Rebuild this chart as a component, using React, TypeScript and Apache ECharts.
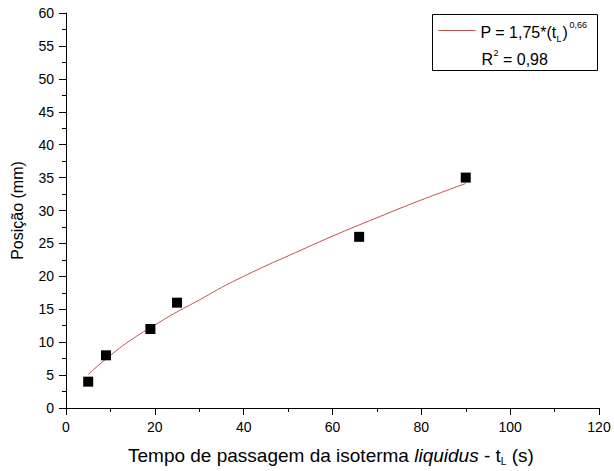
import React, { useEffect, useRef } from "react";
import * as echarts from "echarts";

const pointsT = [5, 9, 19, 25, 66, 90];
const pointsP = [4, 8, 12, 16, 26, 35];
const fitT = [5, 10, 15, 20, 25, 30, 35, 40, 45, 50, 60, 70, 80, 90];
const fitP = [5.1, 8.0, 10.5, 12.6, 14.6, 16.4, 18.3, 20.0, 21.6, 23.1, 26.1, 28.9, 31.6, 34.1];
const xTicks = [0, 20, 40, 60, 80, 100, 120];
const yTicks = [0, 5, 10, 15, 20, 25, 30, 35, 40, 45, 50, 55, 60];

const FONT = "'Liberation Sans', Arial, sans-serif";

export default function App() {
  const ref = useRef<HTMLDivElement>(null);
  useEffect(() => {
    const chart = echarts.init(ref.current!, undefined, { renderer: "svg" });
    const axisCommon = {
      axisLine: { show: true, onZero: false, lineStyle: { color: "#000", width: 1 } },
      axisTick: { show: true, inside: false, length: 7, lineStyle: { color: "#000" } },
      minorTick: { show: true, splitNumber: 2, length: 4, lineStyle: { color: "#000" } },
      splitLine: { show: false },
      axisLabel: { color: "#000", fontFamily: FONT, fontSize: 14 },
      nameTextStyle: { color: "#000", fontFamily: FONT, fontSize: 16 },
    };
    chart.setOption({
      animation: false,
      backgroundColor: "#fff",
      grid: { left: 66, right: 15, top: 13, bottom: 63 },
      xAxis: {
        type: "value",
        min: xTicks[0],
        max: xTicks[xTicks.length - 1],
        interval: 20,
        ...axisCommon,
        axisLabel: { ...axisCommon.axisLabel, margin: 12 },
        name: "",
      },
      yAxis: {
        type: "value",
        min: yTicks[0],
        max: yTicks[yTicks.length - 1],
        interval: 5,
        ...axisCommon,
        axisLabel: { ...axisCommon.axisLabel, margin: 12 },
        name: "Posição (mm)",
        nameLocation: "middle",
        nameGap: 41,
        nameRotate: 90,
      },
      series: [
        {
          type: "line",
          data: fitT.map((t, i) => [t, fitP[i]]),
          smooth: true,
          showSymbol: false,
          symbol: "none",
          lineStyle: { color: "#c0504d", width: 1 },
          z: 2,
        },
        {
          type: "scatter",
          data: pointsT.map((t, i) => [t, pointsP[i]]),
          symbol: "rect",
          symbolSize: 10,
          itemStyle: { color: "#000", opacity: 1 },
          z: 3,
        },
      ],
      graphic: [
        {
          type: "text",
          left: 128,
          top: 446,
          style: {
            text: "{n|Tempo de passagem da isoterma }{i|liquidus}{n| - t}{s|L}{n| (s)}",
            rich: {
              n: { fontFamily: FONT, fontSize: 19, fill: "#000" },
              i: { fontFamily: FONT, fontSize: 19, fill: "#000", fontStyle: "italic" },
              s: { fontFamily: FONT, fontSize: 10, fill: "#000", padding: [12, 0, 0, 0] },
            },
          },
        },
        {
          type: "group",
          left: 432,
          top: 14,
          children: [
            {
              type: "rect",
              shape: { x: 0, y: 0, width: 165, height: 56 },
              style: { fill: "#fff", stroke: "#000", lineWidth: 1 },
            },
            {
              type: "line",
              shape: { x1: 6, y1: 16, x2: 43, y2: 16 },
              style: { stroke: "#c0504d", lineWidth: 1 },
            },
            {
              type: "text",
              x: 48,
              y: 18,
              style: {
                text: "P = 1,75*(t",
                fontFamily: FONT,
                fontSize: 16,
                fill: "#000",
                verticalAlign: "middle",
              },
            },
            {
              type: "text",
              x: 124,
              y: 24,
              style: { text: "L", fontFamily: FONT, fontSize: 9, fill: "#000", verticalAlign: "middle" },
            },
            {
              type: "text",
              x: 130,
              y: 18,
              style: { text: ")", fontFamily: FONT, fontSize: 16, fill: "#000", verticalAlign: "middle" },
            },
            {
              type: "text",
              x: 137,
              y: 10,
              style: { text: "0,66", fontFamily: FONT, fontSize: 9, fill: "#000", verticalAlign: "middle" },
            },
            {
              type: "text",
              x: 49,
              y: 45,
              style: { text: "R", fontFamily: FONT, fontSize: 16, fill: "#000", verticalAlign: "middle" },
            },
            {
              type: "text",
              x: 61,
              y: 38,
              style: { text: "2", fontFamily: FONT, fontSize: 9, fill: "#000", verticalAlign: "middle" },
            },
            {
              type: "text",
              x: 66,
              y: 45,
              style: { text: " = 0,98", fontFamily: FONT, fontSize: 16, fill: "#000", verticalAlign: "middle" },
            },
          ],
        },
      ],
    });
    return () => chart.dispose();
  }, []);
  return <div ref={ref} style={{ width: 614, height: 471, position: "absolute", left: 0, top: 0 }} />;
}
